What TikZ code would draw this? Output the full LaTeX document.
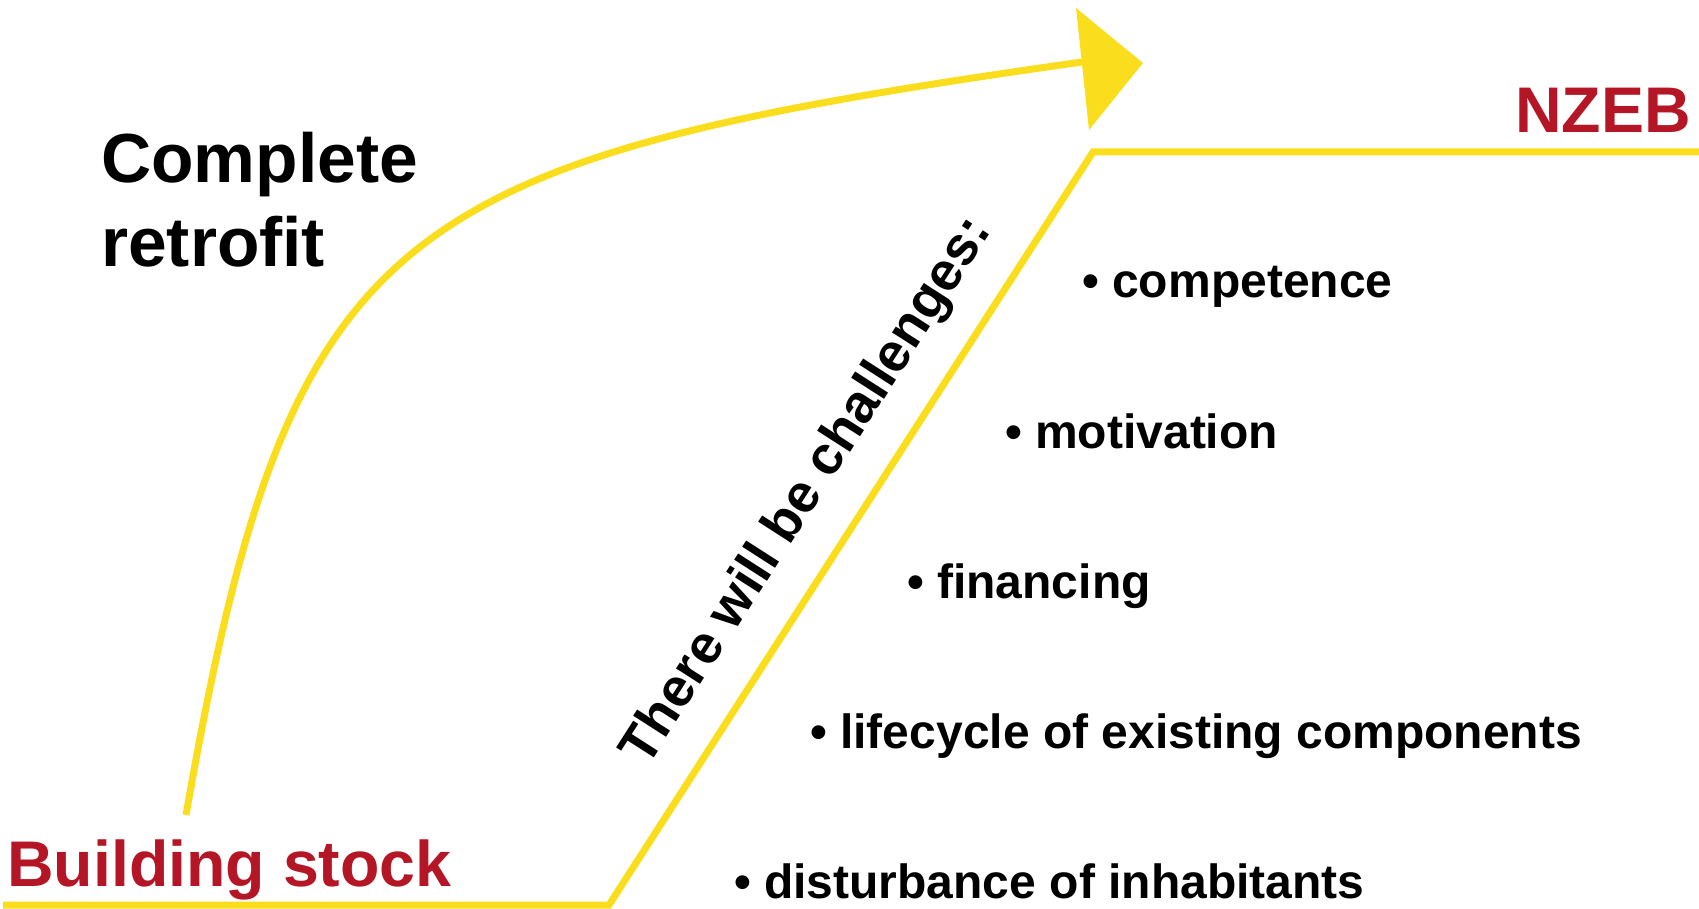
\documentclass[tikz,border=0pt]{standalone}
\usepackage{fontspec}
\setmainfont{Liberation Sans}
\definecolor{ylw}{RGB}{250,222,30}
\definecolor{rd}{RGB}{180,22,38}
\begin{document}
\begin{tikzpicture}[x=1pt,y=-1pt,
  yl/.style={draw=ylw, line width=7pt},
  big/.style={font=\bfseries\fontsize{69.5}{83}\selectfont, inner sep=0pt, anchor=base west},
  red/.style={text=rd, font=\bfseries\fontsize{64.5}{76}\selectfont, inner sep=0pt},
  bul/.style={font=\bfseries\fontsize{48}{58}\selectfont, inner sep=0pt, anchor=base west}]
\useasboundingbox (0,0) rectangle (1699,909);
% baseline path
\coordinate (b0) at (3,905);
\coordinate (b1) at (609,905);
\coordinate (b2) at (1093,152);
\coordinate (b3) at (1699,152);
\draw[yl] (b0) -- (b1) -- (b2) -- (b3);
% curved arrow
\coordinate (a0) at (186,815);
\coordinate (a1) at (1082,62);
\draw[yl] (a0) .. controls (290,220) and (390,160) .. (a1);
\fill[ylw] (1076,8) -- (1143,63) -- (1089,130) -- cycle;
% labels
\node[big] (complete) at (101,183) {Complete};
\node[big] (retrofit) at (101,267) {retrofit};
\node[red, anchor=base east] (nzeb) at (1691,133) {NZEB};
\node[red, anchor=base west] (stock) at (7,886) {Building stock};
\node[rotate=57.3, font=\bfseries\fontsize{54}{65}\selectfont, inner sep=0pt] (chal) at (808,492) {There will be challenges:};
\node[bul] (c1) at (1082,298) {• competence};
\node[bul] (c2) at (1005,448) {• motivation};
\node[bul] (c3) at (907,598) {• financing};
\node[bul] (c4) at (810,748) {• lifecycle of existing components};
\node[bul] (c5) at (734,898) {• disturbance of inhabitants};
\end{tikzpicture}
\end{document}
